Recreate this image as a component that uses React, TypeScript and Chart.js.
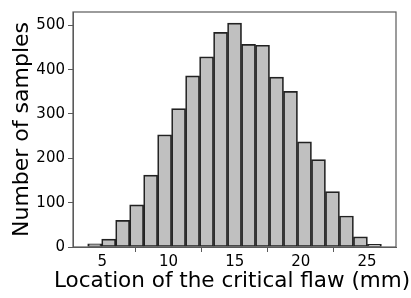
import React, { useEffect, useRef } from "react";
import { Chart, registerables } from "chart.js";

Chart.register(...registerables);

// Histogram: bin edges and counts
const binStart = 3.89;
const binWidth = 1.057;
const counts = [7, 18, 60, 95, 162, 253, 312, 386, 429, 484, 505, 457, 455, 383, 351, 237, 197, 125, 70, 23, 6];
const xTicks = [5, 10, 15, 20, 25];
const yTicks = [0, 100, 200, 300, 400, 500];
const xLabel = "Location of the critical flaw (mm)";
const yLabel = "Number of samples";

const FONT = "'DejaVu Sans', sans-serif";

const framePlugin = {
  id: "frame",
  afterDatasetsDraw(chart: any) {
    const { ctx, chartArea } = chart;
    ctx.save();
    ctx.strokeStyle = "#5a5a5a";
    ctx.lineWidth = 1.2;
    ctx.strokeRect(chartArea.left, chartArea.top, chartArea.right - chartArea.left, chartArea.bottom - chartArea.top);
    ctx.restore();
  },
  // x-axis title drawn without Chart.js's maxWidth squeeze (it overflows the plot like the reference)
  afterDraw(chart: any) {
    const { ctx, chartArea } = chart;
    ctx.save();
    ctx.font = `21.5px ${FONT}`;
    ctx.fillStyle = "#000";
    ctx.textAlign = "center";
    ctx.textBaseline = "middle";
    ctx.fillText(xLabel, (chartArea.left + chartArea.right) / 2 - 2.5, chart.height - 16.5);
    ctx.restore();
  },
};

export default function App() {
  const ref = useRef<HTMLCanvasElement | null>(null);
  useEffect(() => {
    document.body.style.margin = "0";
    const points = counts.map((c, i) => ({ x: binStart + binWidth * (i + 0.5), y: c }));
    const chart = new Chart(ref.current as HTMLCanvasElement, {
      type: "bar",
      data: {
        datasets: [
          {
            data: points as any,
            backgroundColor: "#c0c0c0",
            borderColor: "#222222",
            borderWidth: 1.7,
            barPercentage: 1,
            categoryPercentage: 1,
            borderSkipped: false,
          },
        ],
      },
      options: {
        animation: false,
        responsive: false,
        layout: { padding: { top: 8, right: 15, left: 0, bottom: 0 } },
        plugins: { legend: { display: false }, tooltip: { enabled: false } },
        scales: {
          x: {
            type: "linear",
            min: 2.78,
            max: 27.19,
            offset: false,
            afterBuildTicks: (s: any) => {
              s.ticks = xTicks.map((v) => ({ value: v }));
            },
            afterFit: (s: any) => {
              s.height = 51;
            },
            grid: { drawOnChartArea: false, drawTicks: true, tickLength: 5, color: "#5a5a5a" },
            border: { display: true, color: "#5a5a5a" },
            ticks: { font: { family: FONT, size: 15 }, color: "#000", padding: 1, maxRotation: 0 },
            title: { display: false },
          },
          y: {
            min: 0,
            max: 530,
            afterBuildTicks: (s: any) => {
              s.ticks = yTicks.map((v) => ({ value: v }));
            },
            afterFit: (s: any) => {
              s.width = 73;
            },
            grid: { drawOnChartArea: false, drawTicks: true, tickLength: 5, color: "#5a5a5a" },
            border: { display: true, color: "#5a5a5a" },
            ticks: { font: { family: FONT, size: 15 }, color: "#000", padding: 3 },
            title: {
              display: true,
              text: yLabel,
              font: { family: FONT, size: 22 },
              color: "#000",
              padding: { top: 9, bottom: 0 },
            },
          },
        },
      },
      plugins: [framePlugin],
    });
    return () => chart.destroy();
  }, []);
  return (
    <div style={{ width: 411, height: 298 }}>
      <canvas ref={ref} width={411} height={298} />
    </div>
  );
}
